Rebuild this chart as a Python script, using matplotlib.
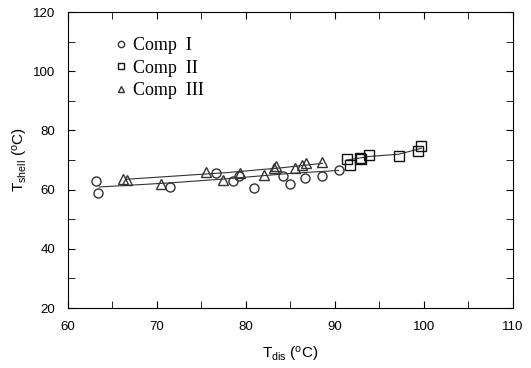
import matplotlib
matplotlib.use("Agg")
import matplotlib.pyplot as plt
from matplotlib.ticker import MultipleLocator

plt.rcParams['font.family'] = ['Liberation Sans', 'DejaVu Sans']
plt.rcParams['mathtext.fontset'] = 'custom'
plt.rcParams['mathtext.rm'] = 'Liberation Sans'
plt.rcParams['mathtext.it'] = 'Liberation Sans'

# Comp I (circles)
comp1_x = [63.2, 63.4, 71.5, 76.6, 78.6, 79.2, 80.9, 84.2, 84.9, 86.6, 88.6, 90.4]
comp1_y = [62.9, 58.8, 61.0, 65.7, 62.9, 64.6, 60.4, 64.7, 62.0, 64.0, 64.6, 66.5]
comp1_fit_x = [63.5, 71.5, 77.5, 85.0, 90.4]
comp1_fit_y = [60.9, 62.3, 63.6, 65.5, 66.5]

# Comp II (squares)
comp2_x = [91.3, 91.7, 92.8, 92.9, 93.8, 97.2, 99.3, 99.7]
comp2_y = [70.2, 68.5, 70.8, 70.2, 71.7, 71.3, 73.1, 74.6]
comp2_fit_x = [91.3, 93.8, 97.2, 99.7]
comp2_fit_y = [70.0, 71.2, 72.0, 74.0]

# Comp III (triangles)
comp3_x = [66.2, 66.6, 70.5, 75.5, 77.4, 79.3, 82.0, 83.1, 83.4, 85.5, 86.3, 86.8, 88.6]
comp3_y = [63.6, 63.3, 61.8, 66.1, 63.4, 65.5, 65.0, 67.2, 68.1, 67.2, 68.3, 69.1, 69.4]
comp3_fit_x = [66.5, 72.0, 78.0, 84.0, 88.6]
comp3_fit_y = [63.5, 64.6, 65.8, 67.4, 68.9]

fig = plt.figure(figsize=(5.31, 3.68), dpi=100)
ax = fig.add_axes([0.128, 0.163, 0.838, 0.804])

ax.plot(comp1_fit_x, comp1_fit_y, color='#333333', lw=0.8)
ax.plot(comp2_fit_x, comp2_fit_y, color='#333333', lw=0.8)
ax.plot(comp3_fit_x, comp3_fit_y, color='#333333', lw=0.8)

ax.plot(comp1_x, comp1_y, 'o', mfc='none', mec='#333333', ms=6.5, mew=1.0, label='Comp  I')
ax.plot(comp2_x, comp2_y, 's', mfc='none', mec='#111111', ms=6.5, mew=1.0, label='Comp  II')
ax.plot(comp3_x, comp3_y, '^', mfc='none', mec='#333333', ms=7, mew=1.0, label='Comp  III')

ax.set_xlim(60, 110)
ax.set_ylim(20, 120)
ax.xaxis.set_major_locator(MultipleLocator(10))
ax.xaxis.set_minor_locator(MultipleLocator(5))
ax.yaxis.set_major_locator(MultipleLocator(20))
ax.yaxis.set_minor_locator(MultipleLocator(10))
ax.tick_params(which='both', direction='in', top=True, right=True, labelsize=9.5)
ax.tick_params(which='both', length=5)
ax.tick_params(axis='x', pad=9)
ax.tick_params(axis='y', pad=9)

ax.set_xlabel(r'T$_{\rm dis}$ ($^{\rm o}$C)', fontsize=11, labelpad=9)
ax.set_ylabel(r'T$_{\rm shell}$ ($^{\rm o}$C)', fontsize=11, labelpad=2)

leg = ax.legend(loc='upper left', bbox_to_anchor=(0.07, 0.97), frameon=False,
                prop={'family': 'Liberation Serif', 'size': 13},
                handlelength=0.6, handletextpad=0.4, labelspacing=0.3, markerscale=0.7)

fig.savefig('out.png', dpi=100)
